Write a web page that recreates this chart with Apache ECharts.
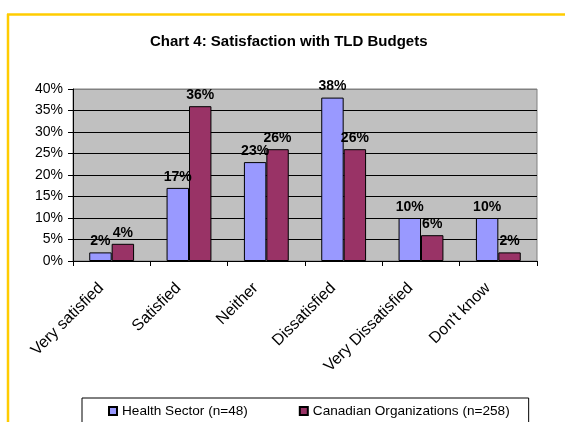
<!DOCTYPE html>
<html>
<head>
  <meta charset="UTF-8">
  <title>Chart 4</title>
  <style>
    *{ margin: 0; padding: 0; }
    body{ background: #ffffff; }
    #chart{ width: 565px; height: 422px; }
  </style>
</head>
<body>
<div id="chart"></div>
<script src="https://cdn.jsdelivr.net/npm/echarts@6/dist/echarts.min.js"></script>
<script>
  // 数据
  var categories = ['Very satisfied', 'Satisfied', 'Neither', 'Dissatisfied', 'Very Dissatisfied', "Don't know"];
  var healthSector = [2, 17, 23, 38, 10, 10];
  var canadianOrgs = [4, 36, 26, 26, 6, 2];
  var seriesNames = ['Health Sector (n=48)', 'Canadian Organizations (n=258)'];

  var font = 'Arial, "Liberation Sans", sans-serif';
  var myChart = echarts.init(document.getElementById('chart'));

  function barSeries(name, data, color) {
    return {
      name: name,
      type: 'bar',
      data: data,
      barGap: '0%',
      barCategoryGap: '42%',
      itemStyle: { color: color, borderColor: '#000000', borderWidth: 1 },
      label: {
        show: true,
        position: 'top',
        distance: 4,
        formatter: '{c}%',
        color: '#000000',
        fontFamily: font,
        fontWeight: 'bold',
        fontSize: 14
      }
    };
  }

  var option = {
    backgroundColor: '#ffffff',
    animation: false,
    title: {
      text: 'Chart 4: Satisfaction with TLD Budgets',
      left: 150,
      top: 34,
      padding: 0,
      textStyle: { fontFamily: font, fontSize: 15, fontWeight: 'bold', color: '#000000' }
    },
    legend: {
      left: 82,
      top: 398,
      padding: [6, 19, 20, 26],
      itemGap: 51,
      itemWidth: 8,
      itemHeight: 8,
      icon: 'rect',
      borderColor: '#000000',
      borderWidth: 1,
      textStyle: { fontFamily: font, fontSize: 13.6, color: '#000000' },
      data: seriesNames
    },
    grid: {
      left: 73,
      right: 28,
      top: 89,
      bottom: 161,
      show: true,
      backgroundColor: '#C0C0C0',
      borderColor: '#808080',
      borderWidth: 1
    },
    xAxis: {
      type: 'category',
      data: categories,
      axisLine: { lineStyle: { color: '#000000', width: 1 } },
      axisTick: { show: true, length: 5, lineStyle: { color: '#000000' } },
      axisLabel: {
        rotate: 45,
        margin: 14,
        padding: [0, 15, 0, 0],
        interval: 0,
        fontFamily: font,
        fontSize: 16,
        color: '#000000'
      }
    },
    yAxis: {
      type: 'value',
      min: 0,
      max: 40,
      interval: 5,
      axisLine: { show: true, lineStyle: { color: '#000000', width: 1 } },
      axisTick: { show: true, length: 5, lineStyle: { color: '#000000' } },
      axisLabel: {
        formatter: '{value}%',
        margin: 10,
        fontFamily: font,
        fontSize: 14,
        color: '#000000'
      },
      splitLine: {
        show: true,
        lineStyle: {
          color: ['#000000', '#000000', '#000000', '#000000', '#000000', '#000000', '#000000', '#000000', '#808080'],
          width: 1
        }
      }
    },
    graphic: [
      { type: 'line', shape: { x1: 8, y1: 14, x2: 8, y2: 422 }, style: { stroke: '#FFCC00', lineWidth: 2.5 } },
      { type: 'line', shape: { x1: 7, y1: 14.5, x2: 565, y2: 14.5 }, style: { stroke: '#FFCC00', lineWidth: 2.5 } }
    ],
    series: [
      barSeries(seriesNames[0], healthSector, '#9999FF'),
      barSeries(seriesNames[1], canadianOrgs, '#993366')
    ]
  };

  myChart.setOption(option);
</script>
</body>
</html>
